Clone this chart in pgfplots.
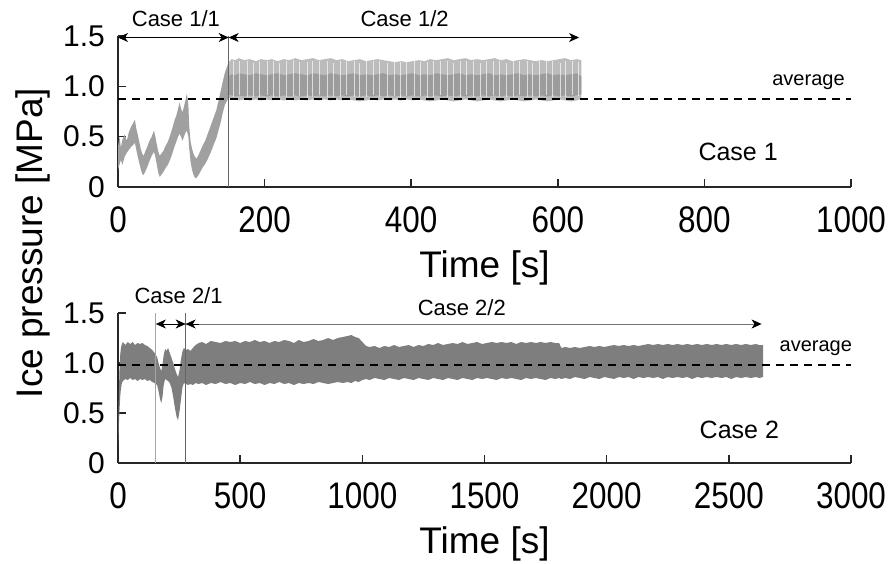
\documentclass[border=0pt]{standalone}
\usepackage{fontspec}
\setmainfont{Liberation Sans}
\newfontfamily\tickfont[FakeStretch=0.85]{Liberation Sans}
\usepackage{pgfplots}
\usepackage{pgfplotstable}
\pgfplotsset{compat=1.18}
\usepgfplotslibrary{fillbetween}
\usetikzlibrary{arrows.meta}

\definecolor{bandlight}{HTML}{BCBCBC}
\definecolor{bandcore}{HTML}{9C9C9C}
\definecolor{bandrise}{HTML}{A0A0A0}
\definecolor{bandtwo}{HTML}{7E7E7E}
\definecolor{axisgray}{HTML}{262626}

% Case 1/1: envelope of the pressure record (time, upper, lower)
\pgfplotstableread{
t u l
0 0.40 0.17
2 0.50 0.22
4 0.39 0.27
6 0.47 0.22
9 0.52 0.30
12 0.46 0.34
15 0.55 0.37
18 0.60 0.40
21 0.64 0.42
23 0.67 0.44
25 0.58 0.37
27 0.52 0.30
29 0.45 0.24
31 0.38 0.18
33 0.33 0.13
35 0.31 0.12
37 0.35 0.15
40 0.40 0.20
43 0.46 0.26
46 0.50 0.31
49 0.56 0.35
51 0.50 0.30
53 0.42 0.22
55 0.35 0.14
57 0.31 0.10
59 0.33 0.12
62 0.36 0.15
65 0.41 0.19
68 0.45 0.22
71 0.51 0.27
74 0.58 0.33
77 0.66 0.40
80 0.72 0.46
82 0.78 0.50
84 0.84 0.53
86 0.78 0.50
88 0.74 0.46
90 0.80 0.50
92 0.86 0.54
94 0.93 0.56
96 0.82 0.50
97 0.62 0.40
99 0.45 0.25
101 0.38 0.17
103 0.33 0.12
105 0.30 0.09
107 0.28 0.09
110 0.32 0.12
113 0.37 0.16
116 0.42 0.20
119 0.46 0.23
122 0.52 0.27
125 0.58 0.32
128 0.64 0.37
131 0.70 0.43
134 0.76 0.48
137 0.85 0.56
140 0.95 0.64
143 1.05 0.74
146 1.14 0.82
149 1.20 0.86
151 1.24 0.88
}\caseonea

% Case 1/2: outer envelope (u, l) and dense core (cu, cl)
\pgfplotstableread{
t u l cu cl
151 1.24 0.88 1.10 0.92
155 1.27 0.88 1.12 0.91
160 1.26 0.87 1.11 0.90
165 1.28 0.86 1.13 0.91
172 1.26 0.87 1.12 0.90
180 1.27 0.86 1.11 0.91
188 1.25 0.87 1.13 0.90
195 1.27 0.86 1.12 0.91
203 1.26 0.87 1.11 0.90
210 1.27 0.86 1.12 0.91
218 1.25 0.87 1.13 0.90
226 1.27 0.86 1.11 0.91
234 1.26 0.87 1.12 0.90
242 1.28 0.86 1.13 0.91
250 1.26 0.87 1.12 0.90
258 1.27 0.86 1.11 0.91
266 1.28 0.87 1.13 0.90
274 1.26 0.86 1.12 0.91
282 1.27 0.87 1.11 0.90
290 1.28 0.86 1.13 0.91
298 1.26 0.87 1.12 0.90
306 1.27 0.86 1.11 0.91
314 1.25 0.87 1.12 0.90
322 1.26 0.86 1.13 0.91
330 1.27 0.85 1.11 0.90
338 1.25 0.86 1.12 0.91
346 1.26 0.87 1.11 0.90
354 1.27 0.86 1.12 0.91
362 1.26 0.87 1.13 0.90
370 1.25 0.86 1.11 0.91
378 1.24 0.87 1.12 0.90
386 1.25 0.86 1.11 0.91
394 1.24 0.87 1.12 0.90
402 1.25 0.86 1.13 0.91
410 1.26 0.87 1.11 0.90
418 1.25 0.86 1.12 0.91
426 1.27 0.85 1.11 0.90
434 1.26 0.86 1.13 0.91
442 1.27 0.87 1.12 0.90
450 1.28 0.86 1.11 0.91
458 1.26 0.85 1.12 0.90
466 1.27 0.86 1.13 0.91
474 1.28 0.87 1.11 0.90
482 1.26 0.86 1.12 0.91
490 1.27 0.85 1.11 0.90
498 1.26 0.86 1.12 0.91
506 1.27 0.87 1.13 0.90
514 1.28 0.86 1.11 0.91
522 1.26 0.85 1.12 0.90
530 1.27 0.86 1.11 0.91
538 1.25 0.87 1.12 0.90
546 1.26 0.86 1.13 0.91
554 1.27 0.85 1.11 0.90
562 1.26 0.86 1.12 0.91
570 1.25 0.87 1.11 0.90
578 1.26 0.86 1.12 0.91
586 1.25 0.85 1.13 0.90
594 1.26 0.86 1.11 0.91
602 1.27 0.87 1.12 0.90
610 1.28 0.86 1.11 0.91
618 1.26 0.85 1.12 0.90
626 1.27 0.86 1.13 0.91
632 1.26 0.88 1.10 0.92
}\caseonebtable

% Case 1/2: light gaps between load cycles (time, centre, half height)
\pgfplotstableread{
t c e
158 1.07 0.18
166 1.08 0.17
177 1.07 0.18
185 1.06 0.17
193 1.07 0.18
204 1.08 0.17
212 1.07 0.18
221 1.06 0.17
230 1.07 0.18
239 1.08 0.18
247 1.07 0.17
258 1.06 0.18
266 1.07 0.18
275 1.08 0.17
286 1.07 0.18
294 1.06 0.17
303 1.07 0.18
312 1.08 0.17
322 1.07 0.18
330 1.06 0.17
339 1.07 0.18
348 1.08 0.17
357 1.07 0.18
368 1.06 0.17
377 1.07 0.17
386 1.06 0.18
394 1.07 0.17
405 1.08 0.18
413 1.07 0.17
422 1.06 0.18
431 1.07 0.18
440 1.08 0.17
450 1.07 0.18
458 1.06 0.17
467 1.07 0.18
476 1.08 0.17
485 1.07 0.18
494 1.06 0.17
503 1.07 0.18
512 1.08 0.17
521 1.07 0.18
530 1.06 0.17
539 1.07 0.18
548 1.08 0.17
558 1.07 0.18
566 1.06 0.17
575 1.07 0.18
584 1.08 0.17
593 1.07 0.18
603 1.06 0.17
611 1.07 0.18
620 1.08 0.17
628 1.07 0.17
}\caseonestripes

% Case 2: envelope of the pressure record (time, upper, lower)
\pgfplotstableread{
t u l
0 0.20 0.17
3 0.62 0.35
6 0.92 0.52
9 1.08 0.66
12 1.15 0.74
16 1.19 0.80
20 1.21 0.82
30 1.18 0.84
40 1.21 0.83
50 1.19 0.85
60 1.21 0.83
70 1.18 0.84
80 1.20 0.82
90 1.19 0.84
100 1.20 0.83
110 1.18 0.84
120 1.17 0.82
130 1.15 0.83
140 1.13 0.81
150 1.10 0.80
160 1.06 0.78
166 1.00 0.72
172 0.95 0.64
177 0.92 0.60
182 0.98 0.66
187 1.08 0.78
193 1.14 0.84
199 1.12 0.83
205 1.15 0.82
212 1.10 0.80
219 1.05 0.75
226 1.00 0.66
233 0.94 0.55
240 0.89 0.46
246 0.86 0.43
252 0.93 0.52
258 1.04 0.64
264 1.12 0.76
270 1.15 0.80
278 1.13 0.79
287 1.14 0.78
296 1.12 0.79
306 1.15 0.78
318 1.18 0.80
330 1.20 0.79
345 1.21 0.80
360 1.19 0.78
380 1.22 0.80
400 1.21 0.79
420 1.20 0.81
440 1.22 0.79
460 1.21 0.80
480 1.22 0.78
500 1.20 0.80
520 1.22 0.79
540 1.21 0.81
560 1.23 0.79
580 1.21 0.80
600 1.22 0.78
620 1.20 0.80
640 1.22 0.79
660 1.21 0.81
680 1.23 0.79
700 1.22 0.80
720 1.20 0.78
740 1.23 0.80
760 1.21 0.79
780 1.22 0.80
800 1.24 0.79
820 1.22 0.81
840 1.23 0.80
860 1.25 0.79
880 1.23 0.80
900 1.25 0.81
920 1.26 0.80
940 1.27 0.81
955 1.28 0.80
970 1.26 0.82
985 1.25 0.81
1000 1.21 0.83
1015 1.17 0.84
1030 1.16 0.83
1050 1.17 0.85
1070 1.15 0.84
1090 1.17 0.83
1110 1.16 0.85
1130 1.18 0.84
1150 1.16 0.83
1170 1.17 0.85
1190 1.18 0.84
1210 1.16 0.83
1230 1.18 0.85
1250 1.17 0.84
1270 1.19 0.83
1290 1.18 0.85
1310 1.20 0.84
1330 1.18 0.83
1350 1.19 0.85
1370 1.20 0.84
1390 1.19 0.83
1410 1.21 0.85
1430 1.19 0.84
1450 1.20 0.83
1470 1.21 0.85
1490 1.19 0.84
1510 1.20 0.85
1530 1.21 0.84
1550 1.20 0.83
1570 1.21 0.85
1590 1.20 0.84
1610 1.21 0.85
1630 1.19 0.84
1650 1.21 0.83
1670 1.20 0.85
1690 1.21 0.84
1710 1.20 0.85
1730 1.21 0.84
1750 1.20 0.83
1770 1.21 0.85
1790 1.20 0.84
1805 1.20 0.85
1815 1.15 0.84
1830 1.16 0.85
1850 1.15 0.84
1870 1.16 0.86
1890 1.15 0.85
1910 1.16 0.84
1930 1.17 0.86
1950 1.16 0.85
1970 1.17 0.84
1990 1.16 0.86
2010 1.17 0.85
2030 1.18 0.84
2050 1.17 0.86
2070 1.18 0.85
2090 1.17 0.86
2110 1.18 0.84
2130 1.17 0.86
2150 1.18 0.85
2170 1.19 0.86
2190 1.18 0.85
2210 1.19 0.86
2230 1.18 0.84
2250 1.19 0.86
2270 1.18 0.85
2290 1.19 0.86
2310 1.18 0.85
2330 1.19 0.86
2350 1.18 0.84
2370 1.19 0.86
2390 1.18 0.85
2410 1.19 0.86
2430 1.18 0.85
2450 1.19 0.86
2470 1.18 0.85
2490 1.19 0.86
2510 1.18 0.84
2530 1.19 0.86
2550 1.18 0.85
2570 1.19 0.86
2590 1.18 0.85
2610 1.19 0.86
2625 1.18 0.85
2640 1.18 0.86
}\casetwo

\pgfplotsset{
  pressure axis/.style={
    scale only axis, width=733pt, height=151pt,
    xmin=0, ymin=0, ymax=1.5,
    axis x line=bottom, axis y line=left,
    axis line style={-, line width=1.5pt, axisgray},
    every outer x axis line/.append style={-},
    every outer y axis line/.append style={-},
    tick align=inside, major tick length=8pt,
    tick style={line width=1.5pt, axisgray},
    ytick={0,0.5,1,1.5}, yticklabels={0,0.5,1.0,1.5},
    xticklabel style={font=\tickfont\fontsize{37pt}{40pt}\selectfont,
      anchor=base, inner sep=0pt, yshift=-45pt},
    yticklabel style={font=\fontsize{30pt}{34pt}\selectfont,
      anchor=east, inner sep=0pt, xshift=-13pt},
    xlabel={Time [s]},
    xlabel style={font=\fontsize{37pt}{40pt}\selectfont,
      at={(axis description cs:0.5,0)}, anchor=center, yshift=-81pt},
    clip=false,
  },
  case arrow/.style={line width=0.8pt,
    {Stealth[length=10pt,width=9pt,inset=3pt]}-{Stealth[length=10pt,width=9pt,inset=3pt]}},
  avg line/.style={black, line width=2pt, dash pattern=on 8pt off 6pt},
}

\begin{document}
\begin{tikzpicture}

% ---- Case 1 ----
\begin{axis}[pressure axis, at={(0pt,276pt)}, xmax=1000,
  xtick={0,200,400,600,800,1000},
  xticklabels={0,200,400,600,800,1000}]
  \addplot[draw=none, name path=au] table[x=t, y=u] \caseonea;
  \addplot[draw=none, name path=al] table[x=t, y=l] \caseonea;
  \addplot[bandrise] fill between[of=au and al];
  \addplot[draw=none, name path=bu] table[x=t, y=u] \caseonebtable;
  \addplot[draw=none, name path=bl] table[x=t, y=l] \caseonebtable;
  \addplot[bandlight] fill between[of=bu and bl];
  \addplot[draw=none, name path=cu] table[x=t, y=cu] \caseonebtable;
  \addplot[draw=none, name path=cl] table[x=t, y=cl] \caseonebtable;
  \addplot[bandcore] fill between[of=cu and cl];
  \addplot[draw=none, mark=none,
    error bars/.cd, y dir=both, y explicit, error mark=none,
    error bar style={draw=white, opacity=0.65, line width=1pt}]
    table[x=t, y=c, y error=e] \caseonestripes;
  \addplot[black!60, line width=0.8pt] coordinates {(151,0) (151,1.5)};
  \addplot[avg line] coordinates {(0,0.87) (1000,0.87)};
  \addplot[case arrow, black] coordinates {(0,1.485) (151,1.485)};
  \addplot[case arrow, black] coordinates {(151,1.485) (629,1.485)};
  \node[font=\fontsize{22pt}{26pt}\selectfont] at (axis cs:79,1.673) {Case 1/1};
  \node[font=\fontsize{22pt}{26pt}\selectfont] at (axis cs:391,1.673) {Case 1/2};
  \node[font=\fontsize{20pt}{24pt}\selectfont] at (axis cs:942,1.04) {average};
  \node[font=\fontsize{25pt}{30pt}\selectfont] at (axis cs:846,0.35) {Case 1};
\end{axis}

% ---- Case 2 ----
\begin{axis}[pressure axis, at={(0pt,0pt)}, height=150pt, xmax=3000,
  xtick={0,500,1000,1500,2000,2500,3000},
  xticklabels={0,500,1000,1500,2000,2500,3000}]
  \addplot[draw=none, name path=du] table[x=t, y=u] \casetwo;
  \addplot[draw=none, name path=dl] table[x=t, y=l] \casetwo;
  \addplot[bandtwo] fill between[of=du and dl];
  \addplot[black!35, line width=0.8pt] coordinates {(155,0) (155,1.5)};
  \addplot[black!60, line width=0.8pt] coordinates {(277,0) (277,1.5)};
  \addplot[avg line] coordinates {(0,0.983) (3000,0.983)};
  \addplot[case arrow, black] coordinates {(155,1.39) (277,1.39)};
  \addplot[black!55, line width=0.8pt, -{Stealth[length=10pt,width=9pt,inset=3pt,black]}]
    coordinates {(277,1.39) (2634,1.39)};
  \addplot[black, line width=0.8pt, {Stealth[length=10pt,width=9pt,inset=3pt]}-]
    coordinates {(277,1.39) (330,1.39)};
  \node[font=\fontsize{22pt}{26pt}\selectfont] at (axis cs:248,1.67) {Case 2/1};
  \node[font=\fontsize{22pt}{26pt}\selectfont] at (axis cs:1407,1.55) {Case 2/2};
  \node[font=\fontsize{20pt}{24pt}\selectfont] at (axis cs:2856,1.15) {average};
  \node[font=\fontsize{25pt}{30pt}\selectfont] at (axis cs:2543,0.33) {Case 2};
\end{axis}

\node[rotate=90, font=\fontsize{37pt}{41pt}\selectfont] at (-85pt,220pt) {Ice pressure [MPa]};

\pgfresetboundingbox
\path[use as bounding box] (-118pt,-100pt) rectangle (772pt,463pt);
\end{tikzpicture}
\end{document}
